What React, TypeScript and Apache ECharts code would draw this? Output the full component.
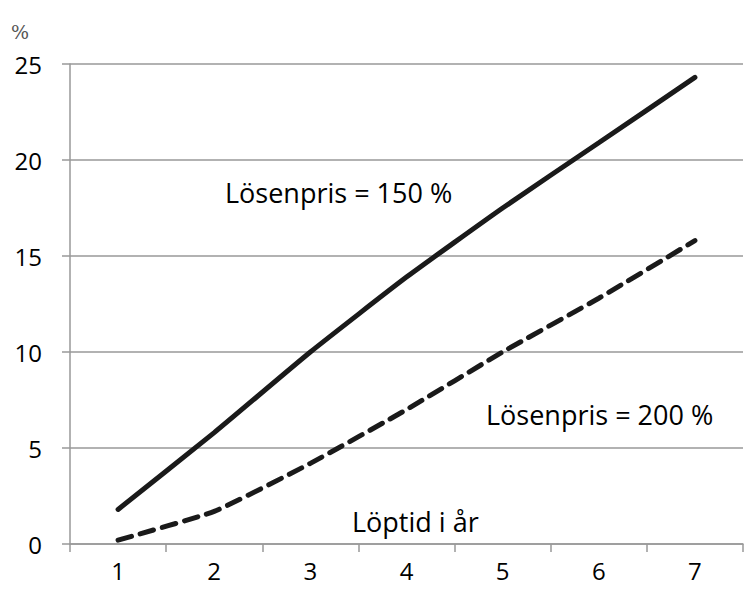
import React, { useEffect, useRef } from "react";
import * as echarts from "echarts";

const categories = ["1", "2", "3", "4", "5", "6", "7"];
const strike150 = [1.8, 5.8, 10.0, 13.9, 17.5, 20.9, 24.3];
const strike200 = [0.2, 1.7, 4.2, 7.0, 10.0, 12.8, 15.8];
const yTicks = [0, 5, 10, 15, 20, 25];

const FONT = "'Open Sans', sans-serif";

export default function App() {
  const ref = useRef<HTMLDivElement>(null);
  useEffect(() => {
    document.body.style.margin = "0";
    const chart = echarts.init(ref.current!, null, { renderer: "svg" });
    chart.setOption({
      animation: false,
      grid: { left: 70, right: 3, top: 64, bottom: 52 },
      xAxis: {
        type: "category",
        data: categories,
        boundaryGap: true,
        axisLine: { lineStyle: { color: "#999", width: 1.5 } },
        axisTick: { show: true, length: 8, lineStyle: { color: "#999", width: 1.5 } },
        axisLabel: { color: "#000", fontSize: 24, fontFamily: FONT, margin: 14 },
      },
      yAxis: {
        type: "value",
        min: yTicks[0],
        max: yTicks[yTicks.length - 1],
        interval: 5,
        axisLine: { show: true, lineStyle: { color: "#999", width: 1.5 } },
        axisTick: { show: true, length: 8, lineStyle: { color: "#999", width: 1.5 } },
        splitLine: { lineStyle: { color: "#999", width: 1.5 } },
        axisLabel: { color: "#000", fontSize: 24, fontFamily: FONT, margin: 28 },
      },
      series: [
        {
          type: "line",
          data: strike150,
          showSymbol: false,
          smooth: 0.15,
          lineStyle: { color: "#1a1a1a", width: 5, cap: "round" },
        },
        {
          type: "line",
          data: strike200,
          showSymbol: false,
          smooth: 0.15,
          lineStyle: { color: "#1a1a1a", width: 5, type: [14, 9], cap: "round" },
        },
      ],
      graphic: [
        { type: "text", left: 11, top: 22, style: { text: "%", fontSize: 19, fill: "#555", fontFamily: "'DejaVu Serif', serif" } },
        { type: "text", left: 225, top: 179, style: { text: "Lösenpris = 150 %", fontSize: 27, fill: "#000", fontFamily: FONT } },
        { type: "text", left: 486, top: 401, style: { text: "Lösenpris = 200 %", fontSize: 27, fill: "#000", fontFamily: FONT } },
        { type: "text", left: 352, top: 508, style: { text: "Löptid i år", fontSize: 27, fill: "#000", fontFamily: FONT } },
      ],
    });
    return () => chart.dispose();
  }, []);
  return <div ref={ref} style={{ width: 746, height: 596 }} />;
}
